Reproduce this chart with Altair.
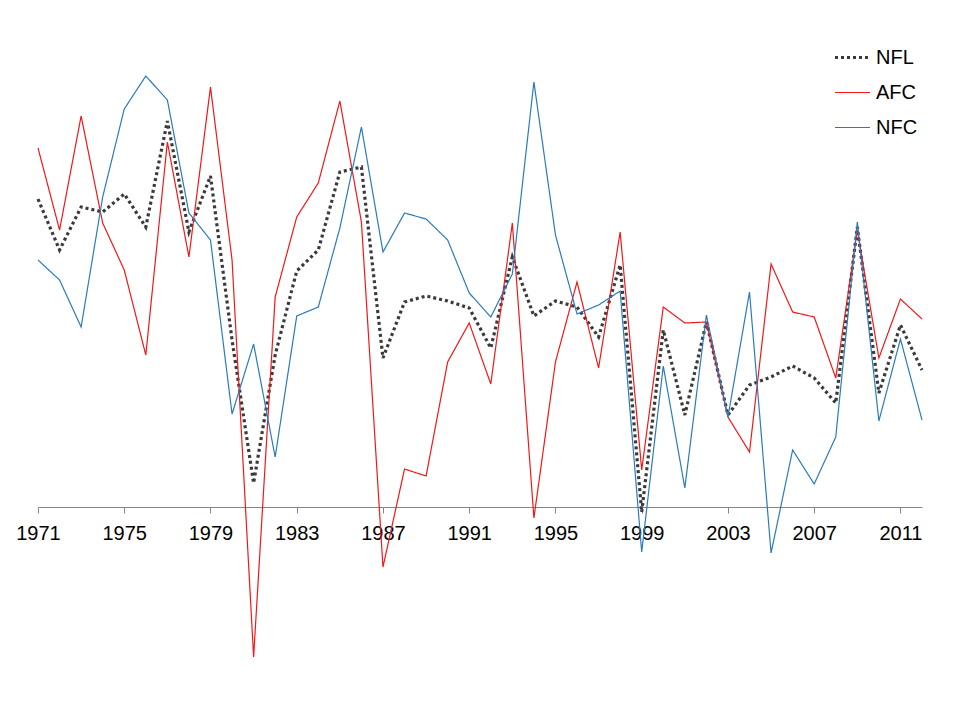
import altair as alt
import pandas as pd

years = list(range(1971, 2013))

afc = [359, 277, 391, 284, 237, 152, 365, 250, 420, 247,
       -150, 210, 290, 324, 406, 285, -60, 38, 31, 145,
       184, 123, 284, -11, 145, 225, 139, 275, 37, 200,
       184, 185, 90, 55, 243, 195, 190, 129, 277, 149,
       208, 188]

nfc = [247, 227, 180, 310, 398, 431, 407, 294, 267, 93,
       163, 50, 191, 200, 279, 380, 255, 294, 288, 267,
       214, 190, 233, 425, 272, 193, 202, 216, -45, 141,
       19, 192, 90, 215, -46, 57, 23, 70, 285, 86,
       168, 87]

nfl = [308, 257, 300, 295, 313, 280, 386, 275, 331, 167,
       24, 152, 236, 257, 335, 340, 149, 205, 211, 206,
       199, 159, 250, 191, 206, 200, 170, 242, -5, 177,
       92, 185, 92, 122, 130, 141, 129, 104, 280, 114,
       182, 137]

series = ["NFL", "AFC", "NFC"]
tick_years = list(range(1971, 2012, 4))

rows = []
for name, vals in zip(series, [nfl, afc, nfc]):
    for y, v in zip(years, vals):
        rows.append({"year": y, "value": v, "series": name})
df = pd.DataFrame(rows)

color_scale = alt.Scale(domain=series, range=["#3a3a3a", "#f01818", "#2a7bbd"])
dash_scale = alt.Scale(domain=series, range=[[3, 3], [1, 0], [1, 0]])
width_scale = alt.Scale(type="ordinal", domain=series, range=[3.2, 1.2, 1.2])

legend = alt.Legend(
    title=None, orient="none", legendX=795, legendY=10,
    symbolType="stroke", symbolSize=1225, labelFontSize=20,
    labelFont="Liberation Sans", labelColor="#000000",
    rowPadding=6, padding=0, labelOffset=4,
)

chart = alt.Chart(df).mark_line().encode(
    x=alt.X("year:Q", scale=alt.Scale(domain=[1971, 2012], nice=False, zero=False),
            axis=alt.Axis(values=tick_years, format="d", title=None, grid=False,
                          offset=-173, domainColor="#868686", tickColor="#868686",
                          tickSize=6, labelFontSize=20, labelFont="Liberation Sans",
                          labelColor="#000000", labelPadding=10, labelFlush=False)),
    y=alt.Y("value:Q", scale=alt.Scale(domain=[-173, 479], nice=False, zero=False),
            axis=None),
    color=alt.Color("series:N", scale=color_scale, sort=series, legend=legend),
    strokeDash=alt.StrokeDash("series:N", scale=dash_scale, sort=series, legend=legend),
    strokeWidth=alt.StrokeWidth("series:N", scale=width_scale, sort=series, legend=legend),
    order=alt.Order("year:Q"),
).properties(
    width=884, height=652,
    autosize=alt.AutoSizeParams(type="none"),
    padding={"left": 30, "top": 20, "right": 20, "bottom": 10},
).configure_view(stroke=None)

chart.save("out.html", embed_options={"renderer": "svg", "actions": False})
